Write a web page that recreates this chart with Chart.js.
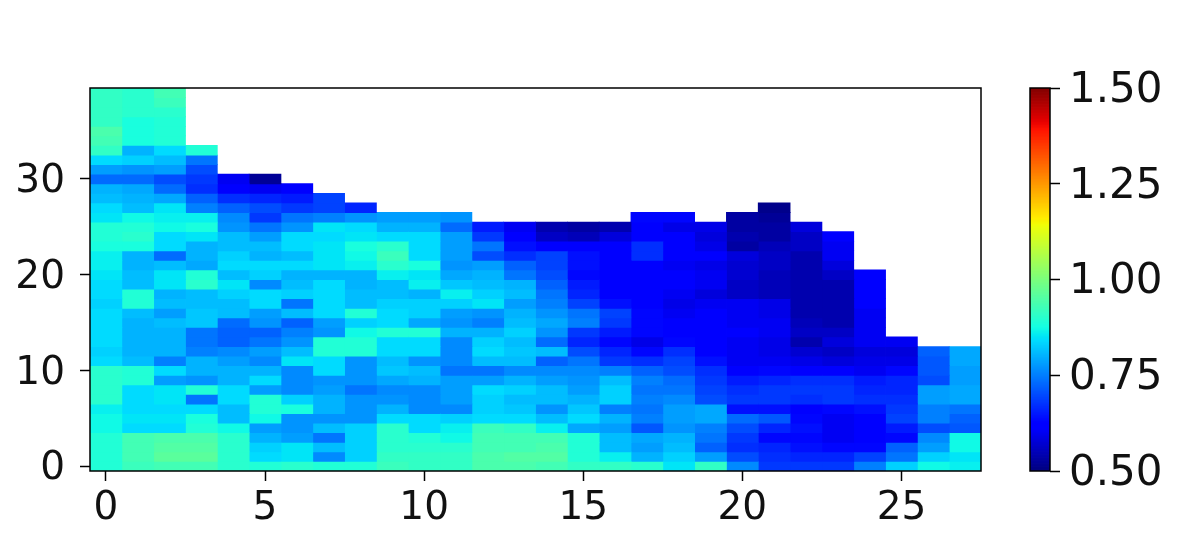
<!DOCTYPE html>
<html>
<head>
<meta charset="utf-8">
<script src="https://cdn.jsdelivr.net/npm/chart.js@4"></script>
<style>
  html, body { margin: 0; padding: 0; background: #fff; }
  canvas { position: absolute; top: 0; }
</style>
</head>
<body>
<canvas id="heat" width="1010" height="557" style="left:0"></canvas>
<canvas id="bar" width="186" height="557" style="left:1010px"></canvas>
<script>
// each list is one column of the grid, bottom row first
const col0 = [.89,.89,.89,.89,.87,.87,.86,.90,.90,.90,.90,.84,.83,.84,.84,.84,.84,.83,.84,.84,.85,.86,.86,.88,.89,.89,.85,.84,.81,.80,.73,.78,.84,.91,.93,.94,.91,.91,.91,.91];
const col1 = [.92,.93,.93,.93,.84,.85,.84,.84,.84,.89,.89,.81,.80,.80,.80,.80,.81,.89,.89,.81,.81,.80,.80,.88,.90,.89,.87,.81,.80,.79,.73,.77,.83,.80,.88,.88,.88,.90,.90,.90];
const col2 = [.93,.96,.95,.94,.84,.85,.84,.85,.85,.78,.84,.75,.80,.80,.80,.81,.78,.81,.80,.85,.85,.81,.73,.84,.84,.87,.86,.85,.79,.73,.70,.78,.81,.84,.89,.89,.89,.90,.92,.93];
const col3 = [.93,.96,.95,.94,.89,.88,.84,.74,.89,.77,.80,.80,.75,.74,.74,.82,.82,.81,.81,.90,.89,.79,.80,.80,.85,.88,.86,.75,.72,.67,.68,.70,.74,.89];
const col4 = [.90,.90,.90,.90,.87,.81,.81,.84,.84,.80,.80,.78,.76,.72,.72,.73,.81,.81,.83,.85,.81,.84,.83,.81,.81,.77,.76,.72,.67,.61,.60];
const col5 = [.89,.84,.83,.80,.78,.87,.89,.89,.78,.84,.80,.76,.78,.74,.72,.77,.78,.84,.84,.76,.83,.84,.80,.81,.78,.74,.68,.70,.66,.60,.52];
const col6 = [.90,.85,.85,.78,.77,.77,.88,.83,.76,.76,.76,.85,.81,.77,.75,.72,.81,.74,.83,.81,.80,.84,.81,.84,.84,.77,.74,.68,.65,.61];
const col7 = [.89,.76,.81,.74,.81,.77,.80,.80,.78,.77,.84,.84,.89,.89,.77,.78,.84,.84,.84,.84,.80,.85,.85,.85,.84,.85,.75,.69,.69];
const col8 = [.89,.83,.83,.83,.83,.77,.77,.77,.74,.77,.77,.77,.89,.89,.87,.83,.89,.81,.81,.80,.80,.86,.87,.88,.85,.84,.77,.66];
const col9 = [.92,.91,.90,.90,.90,.84,.80,.77,.76,.79,.82,.81,.84,.84,.89,.84,.84,.83,.81,.81,.86,.90,.92,.90,.84,.80,.78];
const col10 = [.91,.91,.90,.89,.84,.84,.76,.76,.76,.80,.81,.77,.84,.84,.89,.79,.83,.83,.80,.86,.85,.88,.84,.84,.84,.80,.78];
const col11 = [.91,.91,.90,.87,.86,.83,.76,.78,.78,.78,.74,.76,.76,.76,.80,.77,.78,.83,.86,.82,.79,.77,.78,.78,.78,.73,.77];
const col12 = [.94,.94,.93,.93,.92,.84,.83,.83,.84,.78,.74,.81,.84,.83,.80,.75,.77,.85,.83,.81,.80,.78,.70,.74,.68,.65];
const col13 = [.94,.95,.93,.93,.91,.84,.82,.81,.83,.80,.76,.81,.82,.81,.83,.81,.80,.78,.81,.80,.74,.72,.67,.64,.62,.60];
const col14 = [.93,.95,.94,.93,.86,.81,.77,.81,.81,.78,.76,.72,.81,.73,.77,.79,.77,.75,.74,.72,.70,.69,.69,.61,.56,.54];
const col15 = [.91,.89,.89,.89,.79,.84,.82,.80,.78,.77,.76,.74,.70,.66,.68,.75,.74,.69,.66,.65,.63,.64,.64,.61,.55,.53];
const col16 = [.91,.86,.81,.81,.78,.80,.75,.83,.83,.81,.75,.68,.66,.63,.65,.68,.69,.64,.62,.62,.62,.62,.62,.61,.58,.54];
const col17 = [.90,.80,.78,.79,.71,.75,.74,.75,.74,.75,.72,.67,.63,.59,.63,.63,.63,.61,.61,.61,.61,.62,.67,.67,.62,.61,.63];
const col18 = [.85,.83,.81,.80,.77,.78,.78,.76,.74,.73,.70,.69,.67,.63,.62,.61,.60,.59,.60,.61,.61,.60,.61,.61,.62,.59,.63];
const col19 = [.91,.78,.72,.74,.75,.79,.79,.70,.69,.68,.67,.64,.61,.61,.61,.61,.61,.60,.58,.60,.60,.59,.61,.59,.58,.59];
const col20 = [.76,.70,.67,.68,.70,.73,.64,.68,.67,.65,.61,.60,.60,.60,.61,.60,.60,.60,.56,.56,.57,.57,.58,.53,.54,.53,.53];
const col21 = [.68,.67,.66,.63,.66,.71,.64,.68,.68,.66,.63,.60,.59,.59,.60,.60,.59,.59,.55,.55,.55,.56,.56,.55,.53,.53,.52,.51];
const col22 = [.68,.66,.64,.63,.64,.63,.62,.67,.68,.67,.62,.59,.57,.54,.56,.55,.54,.54,.54,.54,.54,.54,.54,.56,.56,.58];
const col23 = [.68,.66,.63,.60,.60,.60,.63,.68,.68,.67,.61,.58,.56,.58,.56,.54,.54,.54,.54,.54,.56,.58,.60,.60,.61];
const col24 = [.75,.69,.63,.61,.61,.61,.64,.67,.66,.65,.60,.59,.58,.60,.60,.60,.60,.61,.61,.62,.61];
const col25 = [.83,.74,.72,.63,.65,.69,.68,.67,.66,.66,.63,.59,.58,.60];
const col26 = [.87,.83,.78,.76,.70,.75,.75,.78,.78,.70,.71,.71,.72];
const col27 = [.86,.85,.87,.87,.71,.72,.74,.79,.79,.78,.78,.79,.79];

const columns = [col0, col1, col2, col3, col4, col5, col6, col7, col8, col9, col10, col11, col12, col13,
    col14, col15, col16, col17, col18, col19, col20, col21, col22, col23, col24, col25, col26, col27];

const xTicks = [0, 5, 10, 15, 20, 25];
const yTicks = [0, 10, 20, 30];
const barTicks = [0.5, 0.75, 1, 1.25, 1.5];
const vMin = 0.5;
const vMax = 1.5;

const fontSpec = { family: "'DejaVu Sans'", size: 39 };

// matplotlib jet segments
const jetRed = [[0, 0], [0.35, 0], [0.66, 1], [0.89, 1], [1, 0.5]];
const jetGreen = [[0, 0], [0.125, 0], [0.375, 1], [0.64, 1], [0.91, 0], [1, 0]];
const jetBlue = [[0, 0.5], [0.11, 1], [0.34, 1], [0.65, 0], [1, 0]];

function segment(points, t) {
    for (let i = 1; i < points.length; i++) {
        if (t <= points[i][0]) {
            let a = points[i - 1], b = points[i];
            return a[1] + (b[1] - a[1]) * (t - a[0]) / (b[0] - a[0]);
        }
    }
    return points[points.length - 1][1];
}

function jet(v) {
    let t = Math.min(1, Math.max(0, (v - vMin) / (vMax - vMin)));
    let r = Math.round(255 * segment(jetRed, t));
    let g = Math.round(255 * segment(jetGreen, t));
    let b = Math.round(255 * segment(jetBlue, t));
    return `rgb(${r},${g},${b})`;
}

const frame = {
    id: 'frame',
    afterDraw(chart) {
        let a = chart.chartArea, ctx = chart.ctx;
        ctx.save();
        ctx.strokeStyle = '#000';
        ctx.lineWidth = 1.5;
        ctx.strokeRect(a.left, a.top, a.right - a.left, a.bottom - a.top);
        ctx.restore();
    }
};

function setTicks(list) {
    return scale => { scale.ticks = list.map(v => ({ value: v })); };
}

const heatSets = columns.map((values, c) => ({
    data: values.map((v, r) => ({ x: c, y: [r - 0.5, r + 0.5], v: v })),
    backgroundColor: ctx => jet(ctx.raw.v),
    inflateAmount: 0.4
}));

new Chart(document.getElementById('heat'), {
    type: 'bar',
    data: { datasets: heatSets },
    plugins: [frame],
    options: {
        responsive: false,
        animation: false,
        layout: { padding: { top: 88, right: 29, bottom: 0, left: 0 } },
        datasets: { bar: { grouped: false, categoryPercentage: 1, barPercentage: 1 } },
        plugins: { legend: { display: false }, tooltip: { enabled: false } },
        scales: {
            x: {
                type: 'linear', min: -0.5, max: 27.5, offset: false,
                afterBuildTicks: setTicks(xTicks),
                afterFit: s => { s.height = 86; },
                grid: { offset: false, drawOnChartArea: false, tickLength: 10, tickWidth: 1.5, tickColor: '#000' },
                border: { display: false },
                ticks: { color: '#111', font: fontSpec, maxRotation: 0, padding: 4 }
            },
            y: {
                type: 'linear', min: -0.5, max: 39.5,
                afterBuildTicks: setTicks(yTicks),
                afterFit: s => { s.width = 90; },
                grid: { drawOnChartArea: false, tickLength: 10, tickWidth: 1.5, tickColor: '#000' },
                border: { display: false },
                ticks: { color: '#111', font: fontSpec, padding: 15, labelOffset: 3 }
            }
        }
    }
});

// colour bar, thin bands from vMin to vMax
const bandCount = 256;
const barSets = [];
for (let i = 0; i < bandCount; i++) {
    let lo = vMin + (vMax - vMin) * i / bandCount;
    let hi = vMin + (vMax - vMin) * (i + 1) / bandCount;
    barSets.push({
        data: [{ x: '', y: [lo, hi] }],
        backgroundColor: jet((lo + hi) / 2),
        inflateAmount: 0.4
    });
}

new Chart(document.getElementById('bar'), {
    type: 'bar',
    data: { labels: [''], datasets: barSets },
    plugins: [frame],
    options: {
        responsive: false,
        animation: false,
        layout: { padding: { top: 88, right: 0, bottom: 86, left: 20 } },
        datasets: { bar: { grouped: false, categoryPercentage: 1, barPercentage: 1 } },
        plugins: { legend: { display: false }, tooltip: { enabled: false } },
        scales: {
            x: { display: false },
            y: {
                position: 'right', min: vMin, max: vMax,
                afterBuildTicks: setTicks(barTicks),
                afterFit: s => { s.width = 146; },
                grid: { drawOnChartArea: false, tickLength: 10, tickWidth: 1.5, tickColor: '#000' },
                border: { display: false },
                ticks: { color: '#111', font: { family: "'DejaVu Sans'", size: 42 }, padding: 9, labelOffset: 3, callback: v => v.toFixed(2) }
            }
        }
    }
});
</script>
</body>
</html>
